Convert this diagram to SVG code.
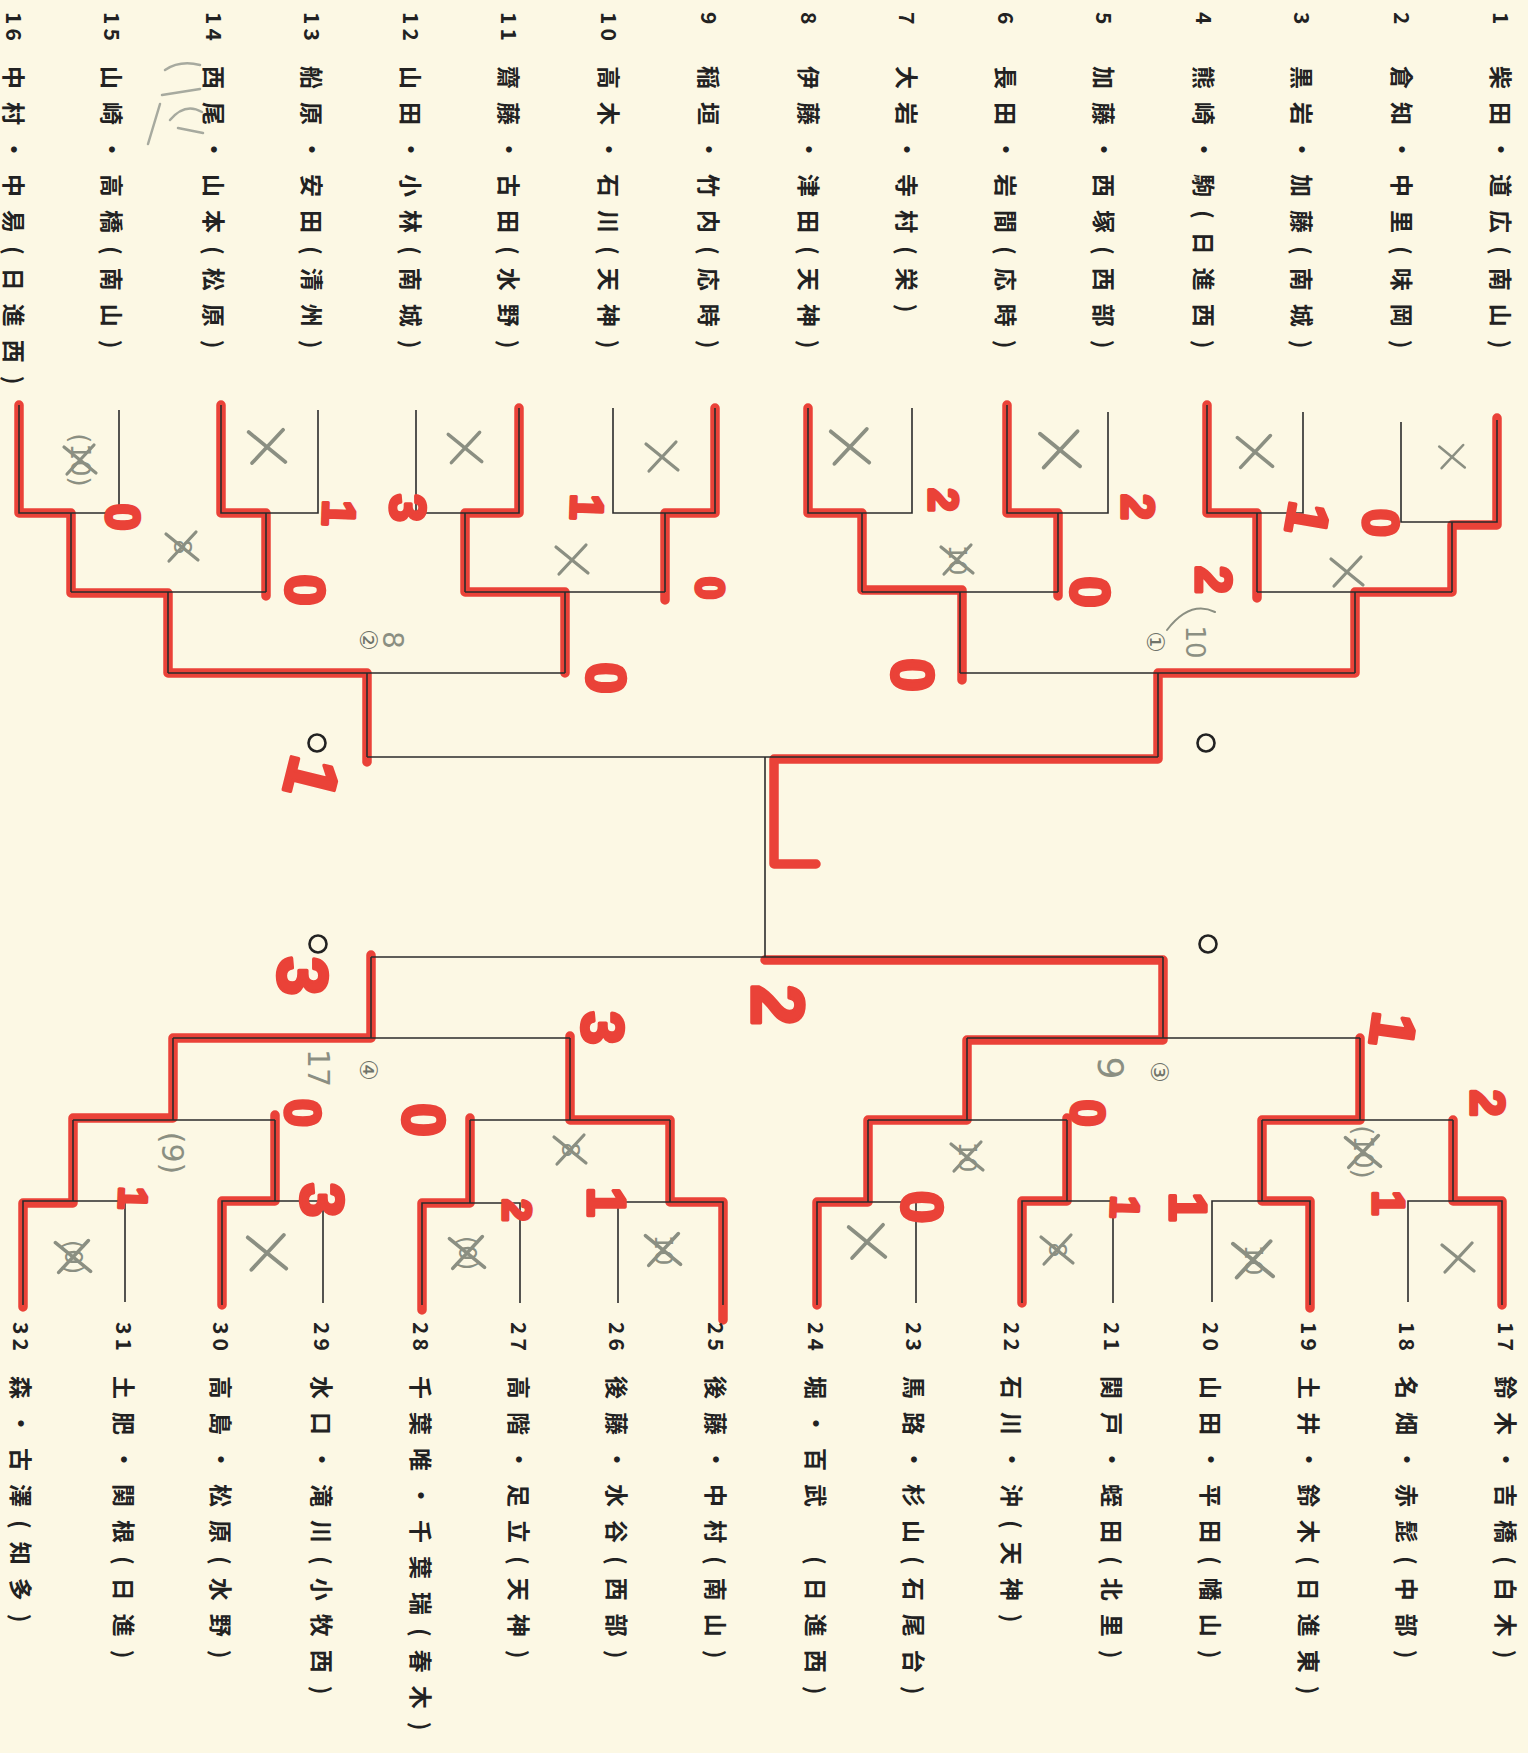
<svg xmlns="http://www.w3.org/2000/svg" xmlns:xlink="http://www.w3.org/1999/xlink" width="1528" height="1753" viewBox="0 0 1528 1753">
<style>
.t{font-family:"Noto Sans CJK JP","Noto Sans CJK SC",sans-serif;font-weight:700;font-size:23px;letter-spacing:13px;fill:#222;dominant-baseline:central}
.n{font-family:"Noto Sans CJK JP",sans-serif;font-weight:700;font-size:21px;letter-spacing:4px;fill:#222;dominant-baseline:central}
.ln{fill:none;stroke:#2b2b2b;stroke-width:1.6}
.rd{fill:none;stroke:#ea4238;stroke-width:9.5;stroke-linejoin:round;stroke-linecap:round}
.sc{font-family:"Liberation Sans",sans-serif;font-weight:700;fill:#ea4238;stroke:#ea4238;stroke-width:3.5;stroke-linejoin:round;text-anchor:middle;dominant-baseline:central}
.gm{fill:none;stroke:#8b8f82;stroke-width:3.2;stroke-linecap:round}
.gt{font-family:"DejaVu Sans",sans-serif;fill:#8b8f82;text-anchor:middle;dominant-baseline:central}
.ci{font-family:"DejaVu Sans","Noto Sans CJK JP",sans-serif;fill:#6f736a;text-anchor:middle;dominant-baseline:central;font-size:24px}
.mk{fill:none;stroke:#222;stroke-width:2.6}
</style>
<defs>
<g id="xm"><path d="M-16,-13 L16,13 M14,-15 L-13,14"/></g>
</defs>
<rect width="1528" height="1753" fill="#fcf8e4"/>

<!-- red winner overlays -->
<g id="red-lines" class="rd">
<path d="M1497,418 V525 H1452 V592 H1355 V673 H1158 V759 H774 V864 H816"/>
<path d="M1207,405 V513 H1257 V598"/>
<path d="M1007,405 V513 H1058 V596"/>
<path d="M808,408 V513 H862 V590 H962 V680"/>
<path d="M715,408 V513 H665 V600"/>
<path d="M519,408 V513 H465 V592 H565 V673"/>
<path d="M221,405 V513 H266 V596"/>
<path d="M19,405 V513 H71 V593 H168 V673 H367 V762"/>
<path d="M1502,1305 V1201 H1453 V1120"/>
<path d="M1310,1308 V1201 H1262 V1120 H1360 V1038"/>
<path d="M1022,1303 V1201 H1067 V1118"/>
<path d="M817,1305 V1202 H868 V1120 H967 V1040 H1163 V960 H765"/>
<path d="M723,1320 V1202 H670 V1120 H570 V1036"/>
<path d="M422,1310 V1203 H470 V1118"/>
<path d="M222,1305 V1201 H275 V1115"/>
<path d="M23,1307 V1203 H73 V1118 H173 V1038 H371 V955"/>
</g>

<!-- bracket connectors -->
<g id="connectors" class="ln">
<path d="M1497,420 V522 H1401 V422"/>
<path d="M1303,412 V513 H1207 V405"/>
<path d="M1108,412 V513 H1007 V405"/>
<path d="M912,408 V513 H808 V408"/>
<path d="M715,408 V513 H613 V408"/>
<path d="M519,408 V513 H416 V410"/>
<path d="M318,410 V513 H221 V405"/>
<path d="M119,410 V513 H19 V405"/>
<path d="M1452,522 V592 M1257,513 V592 M1058,513 V592 M862,513 V592 M665,513 V592 M465,513 V592 M266,513 V592 M71,513 V592"/>
<path d="M1257,592 H1452 M862,592 H1058 M465,592 H665 M71,592 H266"/>
<path d="M1355,592 V673 M960,592 V673 M565,592 V673 M168,592 V673"/>
<path d="M960,673 H1355 M168,673 H565"/>
<path d="M1158,673 V757 M367,673 V757 M367,757 H1158"/>
<path d="M765,757 V957"/>
<path d="M1502,1305 V1201 H1408 V1302"/>
<path d="M1310,1305 V1201 H1212 V1302"/>
<path d="M1113,1303 V1201 H1022 V1303"/>
<path d="M916,1303 V1202 H817 V1305"/>
<path d="M723,1305 V1202 H618 V1303"/>
<path d="M520,1303 V1203 H422 V1305"/>
<path d="M323,1303 V1201 H222 V1305"/>
<path d="M125,1302 V1201 H23 V1305"/>
<path d="M1453,1201 V1120 M1262,1201 V1120 M1067,1201 V1120 M868,1202 V1120 M670,1202 V1120 M470,1203 V1120 M275,1201 V1120 M73,1201 V1120"/>
<path d="M1262,1120 H1453 M868,1120 H1067 M470,1120 H670 M73,1120 H275"/>
<path d="M1360,1120 V1038 M967,1120 V1038 M570,1120 V1038 M173,1120 V1038"/>
<path d="M967,1038 H1360 M173,1038 H570"/>
<path d="M1163,1038 V957 M371,1038 V957 M371,957 H1163"/>
</g>

<!-- semifinal markers -->
<g id="markers" class="mk">
<circle cx="317" cy="743" r="8.5"/>
<circle cx="1206" cy="743" r="8.5"/>
<circle cx="318" cy="944" r="8.5"/>
<circle cx="1208" cy="944" r="8.5"/>
</g>

<!-- teams top -->
<g id="team-1"><text class="n" transform="translate(1502,12) rotate(90)">1</text><text class="t" transform="translate(1502,66) rotate(90)">柴田・道広(南山)</text></g>
<g id="team-2"><text class="n" transform="translate(1403,12) rotate(90)">2</text><text class="t" transform="translate(1403,66) rotate(90)">倉知・中里(味岡)</text></g>
<g id="team-3"><text class="n" transform="translate(1303,12) rotate(90)">3</text><text class="t" transform="translate(1303,66) rotate(90)">黒岩・加藤(南城)</text></g>
<g id="team-4"><text class="n" transform="translate(1205,12) rotate(90)">4</text><text class="t" transform="translate(1205,66) rotate(90)">熊崎・駒(日進西)</text></g>
<g id="team-5"><text class="n" transform="translate(1105,12) rotate(90)">5</text><text class="t" transform="translate(1105,66) rotate(90)">加藤・西塚(西部)</text></g>
<g id="team-6"><text class="n" transform="translate(1007,12) rotate(90)">6</text><text class="t" transform="translate(1007,66) rotate(90)">長田・岩間(応時)</text></g>
<g id="team-7"><text class="n" transform="translate(908,12) rotate(90)">7</text><text class="t" transform="translate(908,66) rotate(90)">大岩・寺村(栄)</text></g>
<g id="team-8"><text class="n" transform="translate(810,12) rotate(90)">8</text><text class="t" transform="translate(810,66) rotate(90)">伊藤・津田(天神)</text></g>
<g id="team-9"><text class="n" transform="translate(710,12) rotate(90)">9</text><text class="t" transform="translate(710,66) rotate(90)">稲垣・竹内(応時)</text></g>
<g id="team-10"><text class="n" transform="translate(610,12) rotate(90)">10</text><text class="t" transform="translate(610,66) rotate(90)">高木・石川(天神)</text></g>
<g id="team-11"><text class="n" transform="translate(510,12) rotate(90)">11</text><text class="t" transform="translate(510,66) rotate(90)">齋藤・古田(水野)</text></g>
<g id="team-12"><text class="n" transform="translate(412,12) rotate(90)">12</text><text class="t" transform="translate(412,66) rotate(90)">山田・小林(南城)</text></g>
<g id="team-13"><text class="n" transform="translate(313,12) rotate(90)">13</text><text class="t" transform="translate(313,66) rotate(90)">船原・安田(清州)</text></g>
<g id="team-14"><text class="n" transform="translate(215,12) rotate(90)">14</text><text class="t" transform="translate(215,66) rotate(90)">西尾・山本(松原)</text></g>
<g id="team-15"><text class="n" transform="translate(113,12) rotate(90)">15</text><text class="t" transform="translate(113,66) rotate(90)">山崎・高橋(南山)</text></g>
<g id="team-16"><text class="n" transform="translate(15,12) rotate(90)">16</text><text class="t" transform="translate(15,66) rotate(90)">中村・中易(日進西)</text></g>

<!-- teams bottom -->
<g id="team-17"><text class="n" transform="translate(1507,1322) rotate(90)">17</text><text class="t" transform="translate(1507,1376) rotate(90)">鈴木・吉橋(白木)</text></g>
<g id="team-18"><text class="n" transform="translate(1408,1322) rotate(90)">18</text><text class="t" transform="translate(1408,1376) rotate(90)">名畑・赤髭(中部)</text></g>
<g id="team-19"><text class="n" transform="translate(1310,1322) rotate(90)">19</text><text class="t" transform="translate(1310,1376) rotate(90)">土井・鈴木(日進東)</text></g>
<g id="team-20"><text class="n" transform="translate(1212,1322) rotate(90)">20</text><text class="t" transform="translate(1212,1376) rotate(90)">山田・平田(幡山)</text></g>
<g id="team-21"><text class="n" transform="translate(1113,1322) rotate(90)">21</text><text class="t" transform="translate(1113,1376) rotate(90)">関戸・蛭田(北里)</text></g>
<g id="team-22"><text class="n" transform="translate(1013,1322) rotate(90)">22</text><text class="t" transform="translate(1013,1376) rotate(90)">石川・沖(天神)</text></g>
<g id="team-23"><text class="n" transform="translate(915,1322) rotate(90)">23</text><text class="t" transform="translate(915,1376) rotate(90)">馬路・杉山(石尾台)</text></g>
<g id="team-24"><text class="n" transform="translate(817,1322) rotate(90)">24</text><text class="t" transform="translate(817,1376) rotate(90)">堀・百武　(日進西)</text></g>
<g id="team-25"><text class="n" transform="translate(717,1322) rotate(90)">25</text><text class="t" transform="translate(717,1376) rotate(90)">後藤・中村(南山)</text></g>
<g id="team-26"><text class="n" transform="translate(618,1322) rotate(90)">26</text><text class="t" transform="translate(618,1376) rotate(90)">後藤・水谷(西部)</text></g>
<g id="team-27"><text class="n" transform="translate(520,1322) rotate(90)">27</text><text class="t" transform="translate(520,1376) rotate(90)">高階・足立(天神)</text></g>
<g id="team-28"><text class="n" transform="translate(422,1322) rotate(90)">28</text><text class="t" transform="translate(422,1376) rotate(90)">千葉唯・千葉瑞(春木)</text></g>
<g id="team-29"><text class="n" transform="translate(323,1322) rotate(90)">29</text><text class="t" transform="translate(323,1376) rotate(90)">水口・滝川(小牧西)</text></g>
<g id="team-30"><text class="n" transform="translate(222,1322) rotate(90)">30</text><text class="t" transform="translate(222,1376) rotate(90)">高島・松原(水野)</text></g>
<g id="team-31"><text class="n" transform="translate(125,1322) rotate(90)">31</text><text class="t" transform="translate(125,1376) rotate(90)">土肥・関根(日進)</text></g>
<g id="team-32"><text class="n" transform="translate(22,1322) rotate(90)">32</text><text class="t" transform="translate(22,1376) rotate(90)">森・古澤(知多)</text></g>

<!-- gray handwritten marks -->
<g id="gray-marks">
<g class="gm">
<use xlink:href="#xm" href="#xm" transform="translate(1452,457) scale(0.8)"/>
<use xlink:href="#xm" href="#xm" transform="translate(1255,452) scale(1.1)"/>
<use xlink:href="#xm" href="#xm" transform="translate(1060,450) scale(1.25)"/>
<use xlink:href="#xm" href="#xm" transform="translate(850,447) scale(1.2)"/>
<use xlink:href="#xm" href="#xm" transform="translate(662,457) scale(1.0)"/>
<use xlink:href="#xm" href="#xm" transform="translate(465,448) scale(1.05)"/>
<use xlink:href="#xm" href="#xm" transform="translate(267,447) scale(1.15)"/>
<use xlink:href="#xm" href="#xm" transform="translate(80,460) scale(1.0)"/>
<use xlink:href="#xm" href="#xm" transform="translate(1347,572) scale(1.0)"/>
<use xlink:href="#xm" href="#xm" transform="translate(957,560) scale(1.0)"/>
<use xlink:href="#xm" href="#xm" transform="translate(572,560) scale(1.0)"/>
<use xlink:href="#xm" href="#xm" transform="translate(182,547) scale(1.0)"/>
<use xlink:href="#xm" href="#xm" transform="translate(1458,1258) scale(1.0)"/>
<use xlink:href="#xm" href="#xm" transform="translate(1253,1260) scale(1.25)"/>
<use xlink:href="#xm" href="#xm" transform="translate(1057,1250) scale(1.0)"/>
<use xlink:href="#xm" href="#xm" transform="translate(867,1242) scale(1.15)"/>
<use xlink:href="#xm" href="#xm" transform="translate(663,1250) scale(1.1)"/>
<use xlink:href="#xm" href="#xm" transform="translate(467,1253) scale(1.1)"/>
<use xlink:href="#xm" href="#xm" transform="translate(267,1253) scale(1.2)"/>
<use xlink:href="#xm" href="#xm" transform="translate(73,1257) scale(1.1)"/>
<use xlink:href="#xm" href="#xm" transform="translate(1363,1152) scale(1.1)"/>
<use xlink:href="#xm" href="#xm" transform="translate(967,1157) scale(1.0)"/>
<use xlink:href="#xm" href="#xm" transform="translate(570,1150) scale(1.0)"/>
<path d="M1167,630 Q1190,600 1215,612" stroke-width="2"/>
<path d="M165,70 q15,-10 35,-5 M162,95 l38,-6 M170,120 q15,-18 32,-8 M160,104 l-12,40 M178,128 l25,5" stroke="#a7aa9f" stroke-width="2.5"/>
</g>
<text class="gt" font-size="26" transform="translate(80,460) rotate(90)">(10)</text>
<text class="gt" font-size="24" transform="translate(957,560) rotate(90)">10</text>
<text class="gt" font-size="24" transform="translate(182,547) rotate(90)">8</text>
<text class="gt" font-size="24" transform="translate(1253,1260) rotate(90)">10</text>
<text class="gt" font-size="24" transform="translate(1057,1250) rotate(90)">8</text>
<text class="gt" font-size="24" transform="translate(663,1250) rotate(90)">10</text>
<text class="gt" font-size="24" transform="translate(467,1253) rotate(90)">(0)</text>
<text class="gt" font-size="24" transform="translate(73,1257) rotate(90)">(0)</text>
<text class="gt" font-size="26" transform="translate(1363,1152) rotate(90)">(10)</text>
<text class="gt" font-size="24" transform="translate(967,1157) rotate(90)">10</text>
<text class="gt" font-size="24" transform="translate(570,1150) rotate(90)">8</text>
<text class="gt" font-size="30" transform="translate(172,1153) rotate(90)">(9)</text>
<text class="gt" font-size="26" transform="translate(1195,642) rotate(90)">10</text>
<text class="gt" font-size="28" transform="translate(392,640) rotate(90)">8</text>
<text class="gt" font-size="36" transform="translate(1110,1068) rotate(90)">9</text>
<text class="gt" font-size="30" transform="translate(318,1068) rotate(90)">17</text>
<text class="ci" transform="translate(1155,642) rotate(90)">①</text>
<text class="ci" transform="translate(368,640) rotate(90)">②</text>
<text class="ci" transform="translate(1159,1072) rotate(90)">③</text>
<text class="ci" transform="translate(368,1070) rotate(90)">④</text>
</g>

<!-- red handwritten scores -->
<g id="scores">
<text class="sc" font-size="50" transform="translate(1380,523) rotate(90)">0</text>
<text class="sc" font-size="58" transform="translate(1308,519) rotate(100)">1</text>
<text class="sc" font-size="50" transform="translate(1213,580) rotate(90)">2</text>
<text class="sc" font-size="46" transform="translate(1138,507) rotate(90)">2</text>
<text class="sc" font-size="56" transform="translate(1090,592) rotate(90)">0</text>
<text class="sc" font-size="42" transform="translate(943,500) rotate(90)">2</text>
<text class="sc" font-size="60" transform="translate(912,675) rotate(90)">0</text>
<text class="sc" font-size="48" transform="translate(122,517) rotate(90)">0</text>
<text class="sc" font-size="46" transform="translate(339,513) rotate(92)">1</text>
<text class="sc" font-size="50" transform="translate(407,508) rotate(90)">3</text>
<text class="sc" font-size="46" transform="translate(587,507) rotate(92)">1</text>
<text class="sc" font-size="56" transform="translate(305,590) rotate(90)">0</text>
<text class="sc" font-size="40" transform="translate(710,588) rotate(90)">0</text>
<text class="sc" font-size="56" transform="translate(606,678) rotate(90)">0</text>
<text class="sc" font-size="72" transform="translate(312,778) rotate(104)">1</text>
<text class="sc" font-size="62" transform="translate(1393,1030) rotate(98)">1</text>
<text class="sc" font-size="48" transform="translate(1487,1103) rotate(90)">2</text>
<text class="sc" font-size="48" transform="translate(1087,1113) rotate(90)">0</text>
<text class="sc" font-size="40" transform="translate(1125,1207) rotate(92)">1</text>
<text class="sc" font-size="52" transform="translate(1188,1207) rotate(90)">1</text>
<text class="sc" font-size="44" transform="translate(1388,1203) rotate(90)">1</text>
<text class="sc" font-size="74" transform="translate(777,1005) rotate(90)">2</text>
<text class="sc" font-size="60" transform="translate(602,1028) rotate(90)">3</text>
<text class="sc" font-size="54" transform="translate(607,1202) rotate(90)">1</text>
<text class="sc" font-size="58" transform="translate(922,1207) rotate(90)">0</text>
<text class="sc" font-size="40" transform="translate(517,1210) rotate(90)">2</text>
<text class="sc" font-size="70" transform="translate(302,976) rotate(90)">3</text>
<text class="sc" font-size="50" transform="translate(302,1113) rotate(90)">0</text>
<text class="sc" font-size="60" transform="translate(423,1120) rotate(90)">0</text>
<text class="sc" font-size="62" transform="translate(322,1200) rotate(90)">3</text>
<text class="sc" font-size="40" transform="translate(133,1198) rotate(92)">1</text>
</g>
</svg>
